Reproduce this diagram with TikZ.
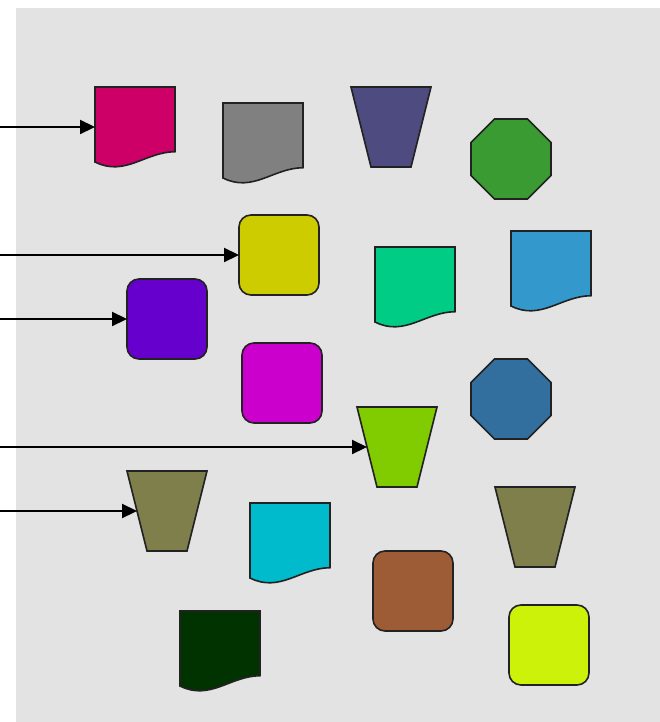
\documentclass[tikz,border=0pt]{standalone}
\usetikzlibrary{shapes.geometric,arrows.meta}
\definecolor{bgc}{HTML}{E3E3E3}
\definecolor{bord}{HTML}{222222}
\definecolor{cA}{HTML}{CC0066}
\definecolor{cB}{HTML}{808080}
\definecolor{cC}{HTML}{4D4B80}
\definecolor{cD}{HTML}{3A9B33}
\definecolor{cE}{HTML}{CCCC00}
\definecolor{cF}{HTML}{00CC85}
\definecolor{cG}{HTML}{3399CC}
\definecolor{cH}{HTML}{6600CC}
\definecolor{cI}{HTML}{CC00CC}
\definecolor{cJ}{HTML}{336F9E}
\definecolor{cK}{HTML}{80CC00}
\definecolor{cL}{HTML}{7F7F4C}
\definecolor{cM}{HTML}{00BBCC}
\definecolor{cN}{HTML}{9E5C36}
\definecolor{cO}{HTML}{003300}
\definecolor{cP}{HTML}{CCF20A}
\tikzset{
  sborder/.style={draw=bord, line width=1.6pt},
  docbox/.style={rectangle, minimum width=80pt, minimum height=80pt, inner sep=0pt, outer sep=0pt},
  roundbox/.style={sborder, rectangle, rounded corners=12pt, minimum width=80pt, minimum height=80pt, inner sep=0pt, outer sep=0pt},
  octbox/.style={sborder, regular polygon, regular polygon sides=8, minimum size=86.6pt, inner sep=0pt, outer sep=0pt},
  conn/.style={draw=black, line width=2.2pt, -{Triangle[length=15pt,width=14pt]}},
}
\newcommand\docshape[3]{%
  \node[docbox] (#1) at (#2) {};
  \draw[sborder, fill=#3, shift={(#1.north west)}] (0,0) -- (80,0) -- (80,64.7)
    .. controls (50,65) and (30,90) .. (0,75) -- cycle;
}
\newcommand\trapshape[3]{%
  \node[docbox] (#1) at (#2) {};
  \draw[sborder, fill=#3, shift={(#1.north west)}] (0,0) -- (80,0) -- (60,80) -- (20,80) -- cycle;
}
\begin{document}
\begin{tikzpicture}[x=1pt,y=-1pt]
\useasboundingbox (0,0) rectangle (660,722);
\fill[bgc] (16,8) rectangle (660,722);

\docshape{n1}{135,127}{cA}
\docshape{n2}{263,143}{cB}
\trapshape{n3}{391,127}{cC}
\node[octbox, fill=cD] (n4) at (511,159) {};
\node[roundbox, fill=cE] (n5) at (279,255) {};
\docshape{n6}{415,287}{cF}
\docshape{n7}{551,271}{cG}
\node[roundbox, fill=cH] (n8) at (167,319) {};
\node[roundbox, fill=cI] (n9) at (282,383) {};
\node[octbox, fill=cJ] (n10) at (511,399) {};
\trapshape{n11}{397,447}{cK}
\trapshape{n12}{167,511}{cL}
\docshape{n13}{290,543}{cM}
\trapshape{n14}{535,527}{cL}
\node[roundbox, fill=cN] (n15) at (413,591) {};
\docshape{n16}{220,651}{cO}
\node[roundbox, fill=cP] (n17) at (549,645) {};

\coordinate (s1) at (0,127);
\coordinate (s2) at (0,255);
\coordinate (s3) at (0,319);
\coordinate (s4) at (0,447);
\coordinate (s5) at (0,511);
\draw[conn] (s1) -- (n1.west);
\draw[conn] (s2) -- (n5.west);
\draw[conn] (s3) -- (n8.west);
\draw[conn] (s4) -- ([xshift=10pt]n11.west);
\draw[conn] (s5) -- ([xshift=10pt]n12.west);
\end{tikzpicture}
\end{document}
